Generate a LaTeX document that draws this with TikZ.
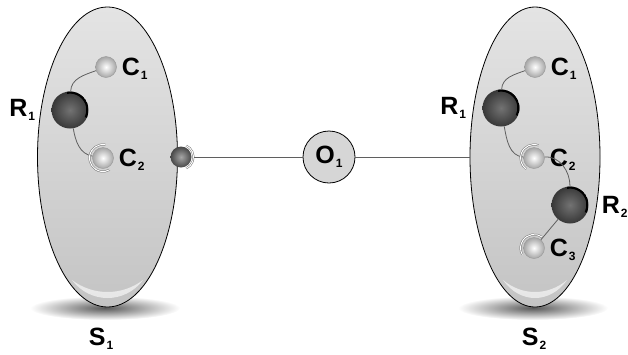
\documentclass[tikz,border=0pt]{standalone}
\usepackage{fontspec}
\setmainfont{Liberation Sans}
\usetikzlibrary{positioning,shapes.geometric}
\definecolor{bodyTop}{RGB}{228,228,228}
\definecolor{bodyBot}{RGB}{196,196,196}
\definecolor{linkColor}{RGB}{95,95,95}
\newcommand{\labfont}{\fontsize{25}{27}\selectfont\bfseries}
\newcommand{\subfont}{\fontsize{12}{13}\selectfont\bfseries}
\newcommand{\lab}[2]{#1\kern1pt\raisebox{-4pt}{\subfont #2}}

\begin{document}
\begin{tikzpicture}[
    x=1pt, y=-1pt,
    body/.style={ellipse, draw=black, line width=0.8pt, top color=bodyTop, bottom color=bodyBot, inner sep=0, minimum height=300pt},
    shadowell/.style={ellipse, inner sep=0, inner color=black!65, outer color=white, minimum width=150pt, minimum height=24pt},
    cball/.style={circle, inner sep=0, minimum size=21pt, draw=black!40, line width=0.4pt, inner color=white, outer color=black!35},
    rball/.style={circle, inner sep=0, minimum size=37pt, inner color=black!55, outer color=black!78,
      path picture={\draw[black, line width=2.2pt] (path picture bounding box.center) ++(100:17.5pt) arc (100:-25:17.5pt);}},
    pball/.style={circle, inner sep=0, minimum size=21pt, inner color=black!35, outer color=black!72},
    onode/.style={circle, draw=black, line width=0.8pt, fill=black!16, minimum size=52pt, inner sep=0, font=\labfont},
    lab/.style={font=\labfont, inner sep=0},
    clab/.style={lab, anchor=base west, xshift=5pt, yshift=-8.5pt},
    rlab/.style={lab, anchor=base east, xshift=-16pt, yshift=-6pt},
    link/.style={linkColor, line width=0.8pt},
    socket/.style={draw=black!55, double=white, double distance=1pt, line width=0.5pt}
  ]
  \useasboundingbox (0,0) rectangle (628,354);

  \node[shadowell] (sh1) at (105,308) {};
  \node[shadowell] (sh2) at (533,308) {};
  \node[body, minimum width=140pt] (s1) at (107.5,157) {};
  \node[body, minimum width=130pt] (s2) at (535,157) {};
  \fill[white, opacity=0.6] (72,280) .. controls (90,304) and (125,304) .. (143,280)
    .. controls (122,296) and (93,296) .. (72,280);
  \fill[white, opacity=0.6] (503,280) .. controls (520,304) and (550,304) .. (567,280)
    .. controls (548,296) and (522,296) .. (503,280);
  \node[lab, anchor=base] (s1t) at (101,345) {\lab{S}{1}};
  \node[lab, anchor=base] (s2t) at (534,345) {\lab{S}{2}};

  \node[rball] (lr1) at (70,110) {};
  \node[cball] (lc1) at (106,67) {};
  \node[cball] (lc2) at (103,158) {};
  \node[rlab] (lr1t) at (lr1.west) {\lab{R}{1}};
  \node[clab] (lc1t) at (lc1.east) {\lab{C}{1}};
  \node[clab] (lc2t) at (lc2.east) {\lab{C}{2}};
  \draw[link] (lr1) to[out=88, in=200] (lc1);
  \draw[link] (lr1) to[out=-80, in=170] (lc2);
  \draw[socket] (lc2.center) ++(80:13.5pt) arc (80:300:13.5pt);

  \node[pball] (port) at (181,157) {};
  \draw[socket] (port.center) ++(-65:12.5pt) arc (-65:65:12.5pt);
  \node[onode] (o1) at (329,157) {\lab{O}{1}};
  \draw[link] ([xshift=2pt]port.east) -- (o1);
  \draw[link] (o1) -- (s2.west);

  \node[rball] (rr1) at (501,108) {};
  \node[cball] (rc1) at (535,67) {};
  \node[cball] (rc2) at (534,158) {};
  \node[rball] (rr2) at (570,205) {};
  \node[cball] (rc3) at (534,248) {};
  \node[rlab] (rr1t) at (rr1.west) {\lab{R}{1}};
  \node[lab, anchor=base west, xshift=13pt, yshift=-8.5pt] (rr2t) at (rr2.east) {\lab{R}{2}};
  \node[clab] (rc1t) at (rc1.east) {\lab{C}{1}};
  \node[clab] (rc2t) at (rc2.east) {\lab{C}{2}};
  \node[clab] (rc3t) at (rc3.east) {\lab{C}{3}};
  \draw[link] (rr1) to[out=88, in=200] (rc1);
  \draw[link] (rr1) to[out=-80, in=175] (rc2);
  \draw[link] (rc2) to[out=5, in=90] (rr2);
  \draw[link] (rr2) -- (rc3);
  \draw[socket] (rc2.center) ++(70:13.5pt) arc (70:235:13.5pt);
  \draw[socket] (rc3.center) ++(55:13.5pt) arc (55:210:13.5pt);
\end{tikzpicture}
\end{document}
